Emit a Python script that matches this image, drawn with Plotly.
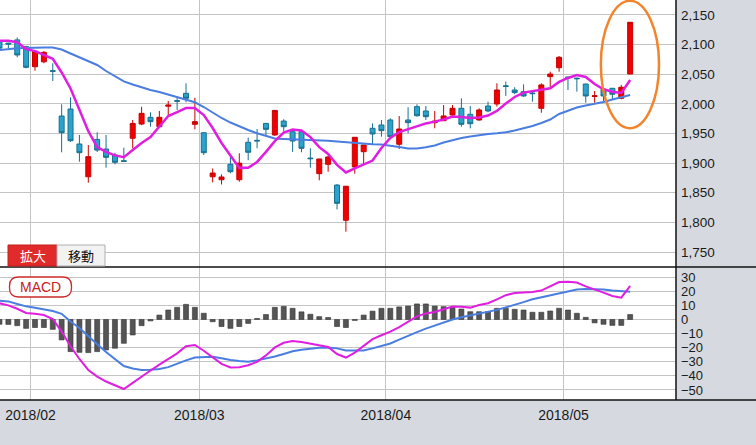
import pandas as pd
import plotly.graph_objects as go

# ---------------- data ----------------
holidays = ["2018-02-12", "2018-03-21", "2018-04-30", "2018-05-03", "2018-05-04"]
dates = pd.bdate_range("2018-01-26", "2018-05-14", freq="C", holidays=holidays)

opens = [2105, 2102.5, 2108, 2096.5, 2062.7, 2071, 2056, 1979.5, 1991.3, 1932.3,
         1877, 1940, 1923.8, 1913.7, 1904, 1942, 1966, 1977.3, 1961.5, 1996,
         2005.5, 2017.8, 1965.5, 1951.3, 1877, 1872, 1898, 1872, 1935.2, 1938.5,
         1967, 1947.5, 1971, 1953, 1953, 1908.5, 1882.2, 1898, 1863, 1803.6,
         1893.5, 1919.3, 1958.8, 1964.4, 1972.8, 1931.8, 1972.8, 1995.3, 1988, 1968.3,
         1971.6, 1981.2, 1992.5, 1982.4, 1972.8, 1996.4, 1999.8, 2030.5, 2023.4, 2020.6,
         2018.3, 1992.5, 2046, 2061, 2045.3, 2043.5, 2033.5, 2012.5, 2024.6, 2026.3,
         2009.4, 2050.4]
highs = [2109, 2103, 2112, 2098, 2089, 2089, 2068.5, 1999.3, 2011, 1947.5,
         1930.6, 1952, 1947.5, 1917.6, 1926, 1972.8, 1995, 1985.8, 1988, 2004.9,
         2012, 2034.7, 2010.4, 1952, 1891, 1881, 1911, 1916.6, 1943, 1957.6,
         1968, 1989, 1974, 1954, 1954, 1925, 1907, 1912.6, 1864.8, 1861,
         1943.6, 1930.6, 1967, 1972.8, 1975.7, 1979.6, 1994.3, 1999.3, 1996.4, 1988,
         1998, 1998, 2009.4, 1996.4, 1992.5, 2003.7, 2034.7, 2037.5, 2028, 2033,
         2023.4, 2034.7, 2054.3, 2080.8, 2045.5, 2044, 2034, 2021.7, 2025, 2026.5,
         2032, 2137.7]
lows = [2092, 2094, 2078.6, 2060, 2056, 2068.5, 2038.6, 1918.3, 1936, 1902.4,
        1867, 1918.8, 1892.3, 1898, 1902, 1925, 1964, 1961.5, 1961, 1981.2,
        1989.7, 2002.7, 1957, 1913.7, 1867.7, 1864, 1882.8, 1868.6, 1905, 1925,
        1946.3, 1946, 1953, 1919, 1918.3, 1892.3, 1871, 1885.5, 1822, 1784.3,
        1882.2, 1897, 1932.3, 1944.6, 1943, 1923.8, 1950.4, 1978.4, 1972.8, 1958.8,
        1971, 1980, 1961.5, 1958.8, 1971.6, 1985.8, 1995.3, 2013.3, 2016.2, 2012,
        2003.7, 1985, 2026.3, 2054.3, 2023.4, 2020.6, 2002, 2002, 2003.7, 2006.5,
        2007.7, 2050.4]
closes = [2094, 2101, 2082.5, 2061.7, 2089, 2087, 2055, 1951.3, 1937.8, 1917.6,
          1910.9, 1922, 1909.8, 1901.4, 1903, 1967, 1984, 1970, 1977.3, 1998,
          2004.5, 2009.4, 1970, 1917.6, 1883.3, 1876.6, 1885.5, 1900, 1918.3, 1937.5,
          1957, 1989, 1961.5, 1937.3, 1925, 1907.5, 1907, 1910.4, 1832.2, 1861,
          1943.6, 1930.6, 1949.2, 1954.8, 1944.6, 1957.6, 1968.3, 1980, 1978.4, 1971,
          1979.6, 1992.5, 1965.5, 1966.5, 1989.7, 1988, 2023.4, 2029.5, 2019, 2013.3,
          2017.3, 2032, 2050.4, 2078.6, 2044.3, 2042.5, 2013.3, 2013.5, 2013.3, 2016.2,
          2028, 2137.7]

ma_short = [2106.6, 2106.6, 2104, 2092.6, 2089, 2082.5, 2076, 2053, 2026, 1990,
            1954, 1927, 1919, 1913, 1910, 1922, 1934, 1944, 1962.6, 1979.5,
            1986, 1993, 1993, 1981, 1959.3, 1934, 1913, 1892, 1892.3, 1902,
            1919, 1937, 1951.7, 1956.8, 1955, 1944, 1927, 1915.4, 1897, 1884.2,
            1891, 1897.7, 1904.4, 1925.5, 1942.4, 1952.5, 1957.6, 1962.7, 1967, 1970,
            1973.6, 1978.7, 1978, 1976, 1977, 1980.4, 1988, 2000.5, 2011.6, 2019,
            2021.7, 2023.4, 2026.3, 2037, 2043.7, 2048.7, 2045.3, 2033.5, 2024.6, 2020.6,
            2018.4, 2040.4]
ma_long = [2091, 2092.6, 2094, 2094.3, 2095, 2095, 2095, 2091.8, 2085, 2078.3,
           2071.5, 2065.6, 2055.5, 2046.2, 2038, 2032.7, 2027.6, 2023.4, 2020, 2015.8,
           2011, 2006.9, 2002.7, 1994.7, 1985.4, 1976.2, 1968.5, 1961.8, 1955.9, 1950.3,
           1945.8, 1941.6, 1940.7, 1940.2, 1939.9, 1939, 1938.5, 1937.7, 1936.5, 1935.2,
           1934, 1932.8, 1931.8, 1931.5, 1929.8, 1927.2, 1924.7, 1924.7, 1926.7, 1929.8,
           1934.8, 1939, 1942.4, 1945, 1947.5, 1949.2, 1950.4, 1952, 1955, 1958.4,
           1962.6, 1967.7, 1973.6, 1982.9, 1988.8, 1993.9, 1997.3, 1999.8, 2003.2, 2007.4,
           2010.8, 2015]

macd = [11.5, 10, 7.6, 4.6, 4, 3.1, 0.3, -8.6, -19, -28,
        -35.8, -40.5, -44, -46.8, -49.3, -45, -40.3, -36.2, -32, -28,
        -24, -19, -18.1, -22.2, -27, -31.5, -34, -33.8, -32.5, -30,
        -25.5, -19.8, -16.5, -15.3, -16, -17, -18, -19.5, -24.5, -27,
        -23.5, -19, -14, -11.2, -8.6, -5.4, -1.3, 2.2, 4.3, 5.3,
        7.2, 9.2, 9, 8.4, 10.2, 11.5, 14.3, 17.2, 18.8, 19,
        19.4, 20.5, 23.5, 26.5, 26.8, 26.2, 23.5, 21, 19, 16.6,
        15.5, 23.8]
signal = [13.3, 12.8, 11, 9.3, 8.3, 7.2, 6, 4, -1.5, -6,
          -12, -17.5, -23, -28, -33, -34.8, -35.8, -35.6, -35.1, -33.8,
          -31.3, -29, -27, -26.6, -26.4, -27.5, -28.8, -29.5, -29.9, -29,
          -27.8, -26.3, -24.5, -22.6, -21.4, -20.6, -20, -19.8, -20.5, -22,
          -22.1, -22, -20.5, -19, -17, -14.3, -11.5, -9, -6.5, -4.3,
          -2.3, 0, 1.5, 2.8, 4, 5.3, 6.8, 8.6, 10.2, 12.3,
          14.3, 15.7, 17, 18.6, 20, 21.3, 21.6, 21.6, 21.2, 20.5,
          20, 19.7]
hist = [-3.4, -3.5, -4.4, -6.3, -5.7, -5.7, -7, -14.5, -22.8, -23.3,
        -23.5, -22.8, -21.6, -20.4, -16.9, -11, -4.4, -1, 3.1, 6.7,
        8.6, 10.7, 8.6, 4.4, -1.6, -5, -6.3, -5, -2.8, 0.7,
        3.5, 8.6, 9.3, 7.9, 5.4, 3.7, 2, 1.4, -5, -5.7,
        -0.7, 3.1, 5.9, 7.9, 7.9, 8.9, 9.5, 11, 11, 9.5,
        9.1, 8.6, 7.4, 5.5, 5.5, 5.5, 7.9, 7.9, 7.2, 6.7,
        5.1, 5.1, 6, 7.9, 6.7, 4.4, 1.5, -2.4, -3.4, -4.2,
        -4.2, 3.5]

price_ticks = [1750, 1800, 1850, 1900, 1950, 2000, 2050, 2100, 2150]
macd_ticks = [30, 20, 10, 0, -10, -20, -30, -40, -50]

# ---------------- figure ----------------
pos = list(range(len(dates)))
month_pos, month_txt = [], []
for k in range(1, len(dates)):
    if dates[k].month != dates[k - 1].month:
        month_pos.append(pos[k] - 0.5)
        month_txt.append(dates[k].strftime("%Y/%m"))

W, H = 756, 445
XD = 676 / W
Y_SPLIT = 1 - 267 / H
Y_BOT = 1 - 400 / H
XR = [0.06, 76.16]
FONT = "Arial, Liberation Sans, sans-serif"
GRID = "#c4c4c4"
MAG = "#e01ee0"
BLU = "#4a7de0"

fig = go.Figure()
fig.add_trace(go.Candlestick(
    x=pos, open=opens, high=highs, low=lows, close=closes,
    increasing=dict(fillcolor="#f00000", line=dict(color="#c80000", width=1)),
    decreasing=dict(fillcolor="#2ba3cc", line=dict(color="#16708f", width=1)),
    whiskerwidth=0, xaxis="x", yaxis="y", hoverinfo="skip"))
fig.add_trace(go.Scatter(x=pos, y=ma_long, mode="lines", line=dict(color=BLU, width=2),
                         xaxis="x", yaxis="y"))
fig.add_trace(go.Scatter(x=pos, y=ma_short, mode="lines", line=dict(color=MAG, width=2.5),
                         xaxis="x", yaxis="y"))

fig.add_trace(go.Bar(x=pos, y=hist, width=0.56, marker=dict(color="#555555", line=dict(color="#333333", width=0.6)),
                     xaxis="x2", yaxis="y2"))
fig.add_trace(go.Scatter(x=pos, y=signal, mode="lines", line=dict(color=BLU, width=2),
                         xaxis="x2", yaxis="y2"))
fig.add_trace(go.Scatter(x=pos, y=macd, mode="lines", line=dict(color=MAG, width=2),
                         xaxis="x2", yaxis="y2"))

axis_common = dict(showline=False, zeroline=False, ticks="", fixedrange=True)
fig.update_layout(
    width=W, height=H, margin=dict(l=0, r=0, t=0, b=0),
    paper_bgcolor="#d6dae0", plot_bgcolor="white", showlegend=False,
    boxgap=0.2, boxgroupgap=0.3,
    font=dict(family=FONT, color="#1a1a1a", size=13),
    xaxis=dict(domain=[0, XD], range=XR, anchor="y", tickvals=month_pos, showticklabels=False,
               showgrid=True, gridcolor=GRID, rangeslider=dict(visible=False), **axis_common),
    yaxis=dict(domain=[Y_SPLIT, 1], range=[1724.7, 2175.3], anchor="x", side="right",
               tickvals=price_ticks, tickformat=",d", showgrid=True, gridcolor=GRID,
               ticklabelstandoff=4, tickfont=dict(size=13.5), **axis_common),
    xaxis2=dict(domain=[0, XD], range=XR, anchor="y2", tickvals=month_pos, ticktext=month_txt,
                showgrid=True, gridcolor=GRID, tickfont=dict(size=14), ticklabelstandoff=5, **axis_common),
    yaxis2=dict(domain=[Y_BOT, Y_SPLIT], range=[-57.1, 37.2], anchor="x2", side="right",
                tickvals=macd_ticks, showgrid=True, gridcolor=GRID,
                ticklabelstandoff=4, tickfont=dict(size=13), **axis_common),
)

shapes = [
    # panel borders
    dict(type="line", xref="paper", yref="paper", x0=0, x1=1, y0=Y_SPLIT, y1=Y_SPLIT,
         line=dict(color="#111", width=1.5)),
    dict(type="line", xref="paper", yref="paper", x0=0, x1=1, y0=Y_BOT, y1=Y_BOT,
         line=dict(color="#111", width=1.5)),
    dict(type="line", xref="paper", yref="paper", x0=XD, x1=XD, y0=Y_BOT, y1=1,
         line=dict(color="#111", width=1.5)),
    # buttons
    dict(type="rect", xref="paper", yref="paper", x0=8 / W, x1=57 / W, y0=1 - 266 / H, y1=1 - 245 / H,
         fillcolor="#e12b2b", line=dict(color="#c41f1f", width=1)),
    dict(type="rect", xref="paper", yref="paper", x0=57 / W, x1=105 / W, y0=1 - 266 / H, y1=1 - 245 / H,
         fillcolor="#f2f2f2", line=dict(color="#b0b0b0", width=1)),
    # MACD label pill
    dict(type="path", xref="paper", yref="paper", xsizemode="pixel", ysizemode="pixel",
         xanchor=40.5 / W, yanchor=1 - 287 / H,
         path="M -22,-10 L 22,-10 Q 31,-10 31,-1 L 31,1 Q 31,10 22,10 L -22,10 Q -31,10 -31,1 "
              "L -31,-1 Q -31,-10 -22,-10 Z",
         fillcolor="white", line=dict(color="#cc2a2a", width=1.3)),
    # highlight ellipse
    dict(type="circle", xref="x", yref="y", x0=pos[-1] - 3.3, x1=pos[-1] + 3.25, y0=1959, y1=2174,
         line=dict(color="#f4842c", width=2.5)),
]
fig.update_layout(shapes=shapes)

ann = dict(xref="paper", yref="paper", showarrow=False, xanchor="center", yanchor="middle")
fig.add_annotation(x=32.5 / W, y=1 - 255.5 / H, text="拡大",
                   font=dict(family="Noto Sans CJK JP", size=13, color="white"), **ann)
fig.add_annotation(x=81 / W, y=1 - 255.5 / H, text="移動",
                   font=dict(family="Noto Sans CJK JP", size=13, color="#111"), **ann)
fig.add_annotation(x=40.5 / W, y=1 - 287 / H, text="MACD",
                   font=dict(family=FONT, size=14, color="#c62020"), **ann)

fig.write_html("out.html")
